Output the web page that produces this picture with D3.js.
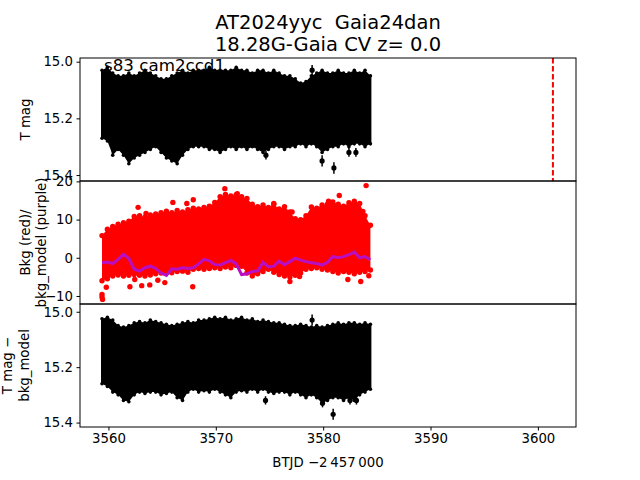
<!DOCTYPE html>
<html>
<head>
<meta charset="utf-8">
<script src="https://cdn.jsdelivr.net/npm/d3@7"></script>
<style>
  body { margin: 0; background: #fff; }
  text { font-family: "DejaVu Sans", sans-serif; white-space: pre; }
</style>
</head>
<body>
<div id="chart"></div>
<script>
const TITLE = ['AT2024yyc  Gaia24dan', '18.28G-Gaia CV z= 0.0']
const SECTOR_LABEL = 's83 cam2ccd1'
const X_LABEL = 'BTJD \u22122\u2009457\u2009000'

const X_TICKS = [3560, 3570, 3580, 3590, 3600]
const MAG_TICKS = [15.0, 15.2, 15.4]
const BKG_TICKS = [-10, 0, 10, 20]
const DASH_T = 3601.4

// sample times (BTJD) of the envelope readings
const times = [
  3559.4, 3559.9, 3560.4, 3560.9, 3561.4, 3561.9, 3562.4, 3562.9, 3563.4, 3563.9,
  3564.4, 3564.9, 3565.4, 3565.9, 3566.4, 3566.9, 3567.4, 3567.9, 3568.4, 3568.9,
  3569.4, 3569.9, 3570.4, 3570.9, 3571.4, 3571.9, 3572.4, 3572.9, 3573.4, 3573.9,
  3574.4, 3574.9, 3575.4, 3575.9, 3576.4, 3576.9, 3577.4, 3577.9, 3578.4, 3578.9,
  3579.4, 3579.9, 3580.4, 3580.9, 3581.4, 3581.9, 3582.4, 3582.9, 3583.4, 3583.9,
  3584.4
]

// panel 1: T mag, bright and faint edge of the band
const magTop = [
  15.03, 15.02, 15.04, 15.05, 15.05, 15.04, 15.05, 15.04, 15.03, 15.04,
  15.05, 15.06, 15.06, 15.05, 15.04, 15.03, 15.04, 15.03, 15.03, 15.03,
  15.02, 15.03, 15.03, 15.03, 15.03, 15.02, 15.03, 15.03, 15.04, 15.03,
  15.03, 15.04, 15.03, 15.04, 15.05, 15.05, 15.06, 15.075, 15.07, 15.05,
  15.04, 15.03, 15.04, 15.04, 15.03, 15.04, 15.04, 15.03, 15.04, 15.03,
  15.05
]
const magBottom = [
  15.27, 15.28, 15.33, 15.31, 15.33, 15.36, 15.34, 15.33, 15.32, 15.31,
  15.30, 15.32, 15.34, 15.35, 15.36, 15.33, 15.31, 15.30, 15.30, 15.30,
  15.31, 15.31, 15.32, 15.31, 15.30, 15.31, 15.30, 15.31, 15.30, 15.31,
  15.32, 15.31, 15.30, 15.30, 15.31, 15.30, 15.30, 15.29, 15.30, 15.29,
  15.30, 15.32, 15.31, 15.30, 15.30, 15.29, 15.30, 15.29, 15.29, 15.30,
  15.29
]
// [t, mag, err]
const magOutliers = [
  [3578.97, 15.03, 0.018], [3574.67, 15.33, 0.015], [3579.9, 15.35, 0.02],
  [3581.0, 15.375, 0.02], [3582.4, 15.32, 0.015], [3583.05, 15.32, 0.015]
]

// panel 2: background flux (red) and background model (purple)
const bkgTop = [
  5.8, 7.5, 8.2, 8.8, 9.2, 9.6, 10.8, 11.0, 10.6, 11.2,
  11.5, 11.8, 12.2, 11.8, 12.4, 12.0, 12.6, 13.0, 12.8, 13.2,
  13.5, 14.5, 16.0, 16.6, 16.2, 16.5, 16.0, 15.5, 14.0, 13.4,
  13.8, 13.2, 14.0, 12.8, 13.4, 12.0, 10.2, 10.0, 11.0, 13.3,
  13.0, 13.8, 14.0, 14.6, 14.0, 13.5, 14.4, 14.8, 14.2, 11.0,
  8.5
]
const bkgBottom = [
  -6.0, -5.5, -4.8, -4.5, -4.8, -4.6, -4.4, -4.6, -4.8, -4.5,
  -4.2, -4.0, -3.8, -3.9, -3.6, -3.5, -3.8, -3.0, -2.8, -3.0,
  -2.8, -2.6, -2.8, -2.4, -2.6, -2.0, -2.2, -4.0, -4.8, -4.2,
  -3.6, -3.0, -3.8, -4.4, -4.8, -5.0, -4.6, -4.0, -3.0, -2.8,
  -2.6, -3.0, -3.2, -3.6, -4.0, -3.6, -3.8, -4.2, -3.8, -3.6,
  -3.2
]
const bkgModel = [
  -1.3, -1.1, -1.5, -0.4, 0.9, -0.2, -3.0, -3.5, -2.6, -2.2,
  -2.8, -4.0, -4.6, -2.9, -3.0, -2.6, -2.8, -2.6, -1.6, -0.4,
  -0.8, -1.8, -1.9, -1.3, -0.7, -1.6, -4.4, -4.2, -3.6, -3.4,
  -1.2, -2.4, -2.2, -0.9, -1.8, -1.0, -0.1, -0.6, -1.0, -1.3,
  -1.5, -1.9, -1.2, 0.3, 0.0, 0.3, 0.8, 1.5, 0.0, 0.3,
  -0.5
]
// [t, flux]
const bkgOutliers = [
  [3562.76, 13.2], [3563.5, 11.6], [3566.0, 14.5], [3567.3, 14.2], [3567.9, 15.2],
  [3570.84, 18.1], [3572.0, 16.8], [3575.4, 14.2], [3577.1, 12.0], [3580.5, 14.8],
  [3581.5, 16.3], [3584.0, 18.9], [3583.7, 12.1],
  [3559.4, -9.6], [3559.4, -10.3], [3559.45, -10.9], [3559.8, -7.7], [3562.0, -7.6],
  [3562.45, -5.7], [3563.1, -7.3], [3563.85, -7.1], [3564.6, -5.9], [3565.25, -6.5],
  [3567.85, -7.6], [3576.9, -6.2], [3577.8, -4.9], [3582.3, -5.7], [3583.5, -6.2],
  [3584.25, -4.7]
]

// panel 3: T mag - bkg_model
const corrTop = [
  15.025, 15.02, 15.03, 15.05, 15.055, 15.05, 15.04, 15.035, 15.04, 15.03,
  15.035, 15.04, 15.045, 15.05, 15.045, 15.04, 15.035, 15.04, 15.03, 15.03,
  15.025, 15.02, 15.025, 15.02, 15.03, 15.025, 15.02, 15.03, 15.025, 15.035,
  15.03, 15.035, 15.04, 15.04, 15.045, 15.05, 15.05, 15.045, 15.05, 15.055,
  15.05, 15.055, 15.05, 15.045, 15.04, 15.045, 15.04, 15.04, 15.045, 15.04,
  15.045
]
const corrBottom = [
  15.26, 15.27, 15.29, 15.30, 15.32, 15.325, 15.30, 15.29, 15.295, 15.29,
  15.29, 15.30, 15.295, 15.29, 15.31, 15.32, 15.29, 15.28, 15.29, 15.285,
  15.29, 15.28, 15.29, 15.30, 15.31, 15.29, 15.285, 15.29, 15.28, 15.29,
  15.28, 15.29, 15.295, 15.29, 15.29, 15.30, 15.29, 15.30, 15.31, 15.30,
  15.31, 15.33, 15.32, 15.31, 15.31, 15.32, 15.31, 15.32, 15.30, 15.29,
  15.28
]
const corrOutliers = [
  [3578.97, 15.03, 0.02], [3574.63, 15.32, 0.015], [3579.94, 15.33, 0.015],
  [3580.93, 15.37, 0.02], [3582.5, 15.32, 0.015], [3583.1, 15.32, 0.015]
]

const WIDTH = 640
const HEIGHT = 480
const LEFT = 80
const RIGHT = 576
const FONT = 13.3
const LABEL_FONT = 16.7
const TITLE_FONT = 19.5

const svg = d3.select('#chart').append('svg')
  .attr('width', WIDTH)
  .attr('height', HEIGHT)

const x = d3.scaleLinear().domain([3557.35, 3603.55]).range([LEFT, RIGHT])

const panels = [
  {top: 58, bottom: 181, domain: [14.987, 15.421], ticks: MAG_TICKS, fmt: d3.format('.1f'),
    label: ['T mag'], labelX: [30]},
  {top: 181, bottom: 304, domain: [20.1, -12.1], ticks: BKG_TICKS, fmt: d => d3.format('d')(d).replace('-', '\u2212'),
    label: ['Bkg (red)/', 'bkg_model (purple)'], labelX: [30, 46]},
  {top: 304, bottom: 427, domain: [14.972, 15.416], ticks: MAG_TICKS, fmt: d3.format('.1f'),
    label: ['T mag \u2212', 'bkg_model'], labelX: [12, 29]}
]

panels.forEach((p, i) => {
  p.y = d3.scaleLinear().domain(p.domain).range([p.top, p.bottom])
  svg.append('clipPath').attr('id', 'clip' + i)
    .append('rect')
    .attr('x', LEFT).attr('y', p.top)
    .attr('width', RIGHT - LEFT).attr('height', p.bottom - p.top)
  p.g = svg.append('g').attr('clip-path', `url(#clip${i})`)
})

// black photometry band with error bars
function drawBand(p, top, bottom, outliers) {
  const idx = d3.range(times.length)
  p.g.append('path')
    .datum(idx)
    .attr('fill', 'black')
    .attr('d', d3.area()
      .x(i => x(times[i]))
      .y0(i => p.y(top[i]))
      .y1(i => p.y(bottom[i])))
  p.g.selectAll(null).data(idx).enter().append('line')
    .attr('x1', i => x(times[i])).attr('x2', i => x(times[i]))
    .attr('y1', i => p.y(top[i])).attr('y2', i => p.y(bottom[i]))
    .attr('stroke', 'black').attr('stroke-width', 2)
  const ends = idx.flatMap(i => [[times[i], top[i]], [times[i], bottom[i]]])
  p.g.selectAll(null).data(ends).enter().append('circle')
    .attr('cx', d => x(d[0])).attr('cy', d => p.y(d[1]))
    .attr('r', 1.8).attr('fill', 'black')
  p.g.selectAll(null).data(outliers).enter().append('line')
    .attr('x1', d => x(d[0])).attr('x2', d => x(d[0]))
    .attr('y1', d => p.y(d[1] - d[2])).attr('y2', d => p.y(d[1] + d[2]))
    .attr('stroke', 'black').attr('stroke-width', 1.5)
  p.g.selectAll(null).data(outliers).enter().append('circle')
    .attr('cx', d => x(d[0])).attr('cy', d => p.y(d[1]))
    .attr('r', 2.6).attr('fill', 'black')
}

drawBand(panels[0], magTop, magBottom, magOutliers)
drawBand(panels[2], corrTop, corrBottom, corrOutliers)

// background panel
const pb = panels[1]
const idx = d3.range(times.length)
pb.g.append('path')
  .datum(idx)
  .attr('fill', 'red')
  .attr('d', d3.area()
    .x(i => x(times[i]))
    .y0(i => pb.y(bkgTop[i]))
    .y1(i => pb.y(bkgBottom[i])))
const redDots = idx.flatMap(i => [[times[i], bkgTop[i]], [times[i], bkgBottom[i]]]).concat(bkgOutliers)
pb.g.selectAll(null).data(redDots).enter().append('circle')
  .attr('cx', d => x(d[0])).attr('cy', d => pb.y(d[1]))
  .attr('r', 2.7).attr('fill', 'red')
pb.g.append('path')
  .datum(idx)
  .attr('fill', 'none')
  .attr('stroke', '#b80fc4')
  .attr('stroke-width', 3)
  .attr('d', d3.line().x(i => x(times[i])).y(i => pb.y(bkgModel[i])))

// dashed marker in the top panel
panels[0].g.append('line')
  .attr('x1', x(DASH_T)).attr('x2', x(DASH_T))
  .attr('y1', panels[0].top).attr('y2', panels[0].bottom)
  .attr('stroke', 'red').attr('stroke-width', 2)
  .attr('stroke-dasharray', '5.5,2.5')

// axes
panels.forEach((p, i) => {
  const yAxis = svg.append('g')
    .attr('transform', `translate(${LEFT},0)`)
    .call(d3.axisLeft(p.y).tickValues(p.ticks).tickFormat(p.fmt).tickSize(3.5).tickPadding(3.5))
  yAxis.select('.domain').remove()
  yAxis.selectAll('.tick line').attr('stroke-width', 1)
  yAxis.selectAll('text').attr('font-size', FONT).attr('font-family', '"DejaVu Sans", sans-serif')

  svg.append('rect')
    .attr('x', LEFT).attr('y', p.top)
    .attr('width', RIGHT - LEFT).attr('height', p.bottom - p.top)
    .attr('fill', 'none').attr('stroke', 'black').attr('stroke-width', 1)

  const cy = (p.top + p.bottom) / 2
  p.label.forEach((t, j) => {
    svg.append('text')
      .attr('transform', `translate(${p.labelX[j]},${cy}) rotate(-90)`)
      .attr('text-anchor', 'middle')
      .attr('font-size', FONT)
      .text(t)
  })
})

const xAxis = svg.append('g')
  .attr('transform', `translate(0,${panels[2].bottom})`)
  .call(d3.axisBottom(x).tickValues(X_TICKS).tickFormat(d3.format('d')).tickSize(3.5).tickPadding(3.5))
xAxis.select('.domain').remove()
xAxis.selectAll('text').attr('font-size', FONT).attr('font-family', '"DejaVu Sans", sans-serif')

svg.append('text')
  .attr('x', (LEFT + RIGHT) / 2).attr('y', 467)
  .attr('text-anchor', 'middle')
  .attr('font-size', FONT)
  .text(X_LABEL)

// titles
TITLE.forEach((t, i) => {
  svg.append('text')
    .attr('x', (LEFT + RIGHT) / 2).attr('y', 28.5 + i * 22.5)
    .attr('text-anchor', 'middle')
    .attr('font-size', TITLE_FONT)
    .text(t)
})

svg.append('text')
  .attr('x', 104).attr('y', 71)
  .attr('font-size', LABEL_FONT)
  .text(SECTOR_LABEL)
</script>
</body>
</html>
